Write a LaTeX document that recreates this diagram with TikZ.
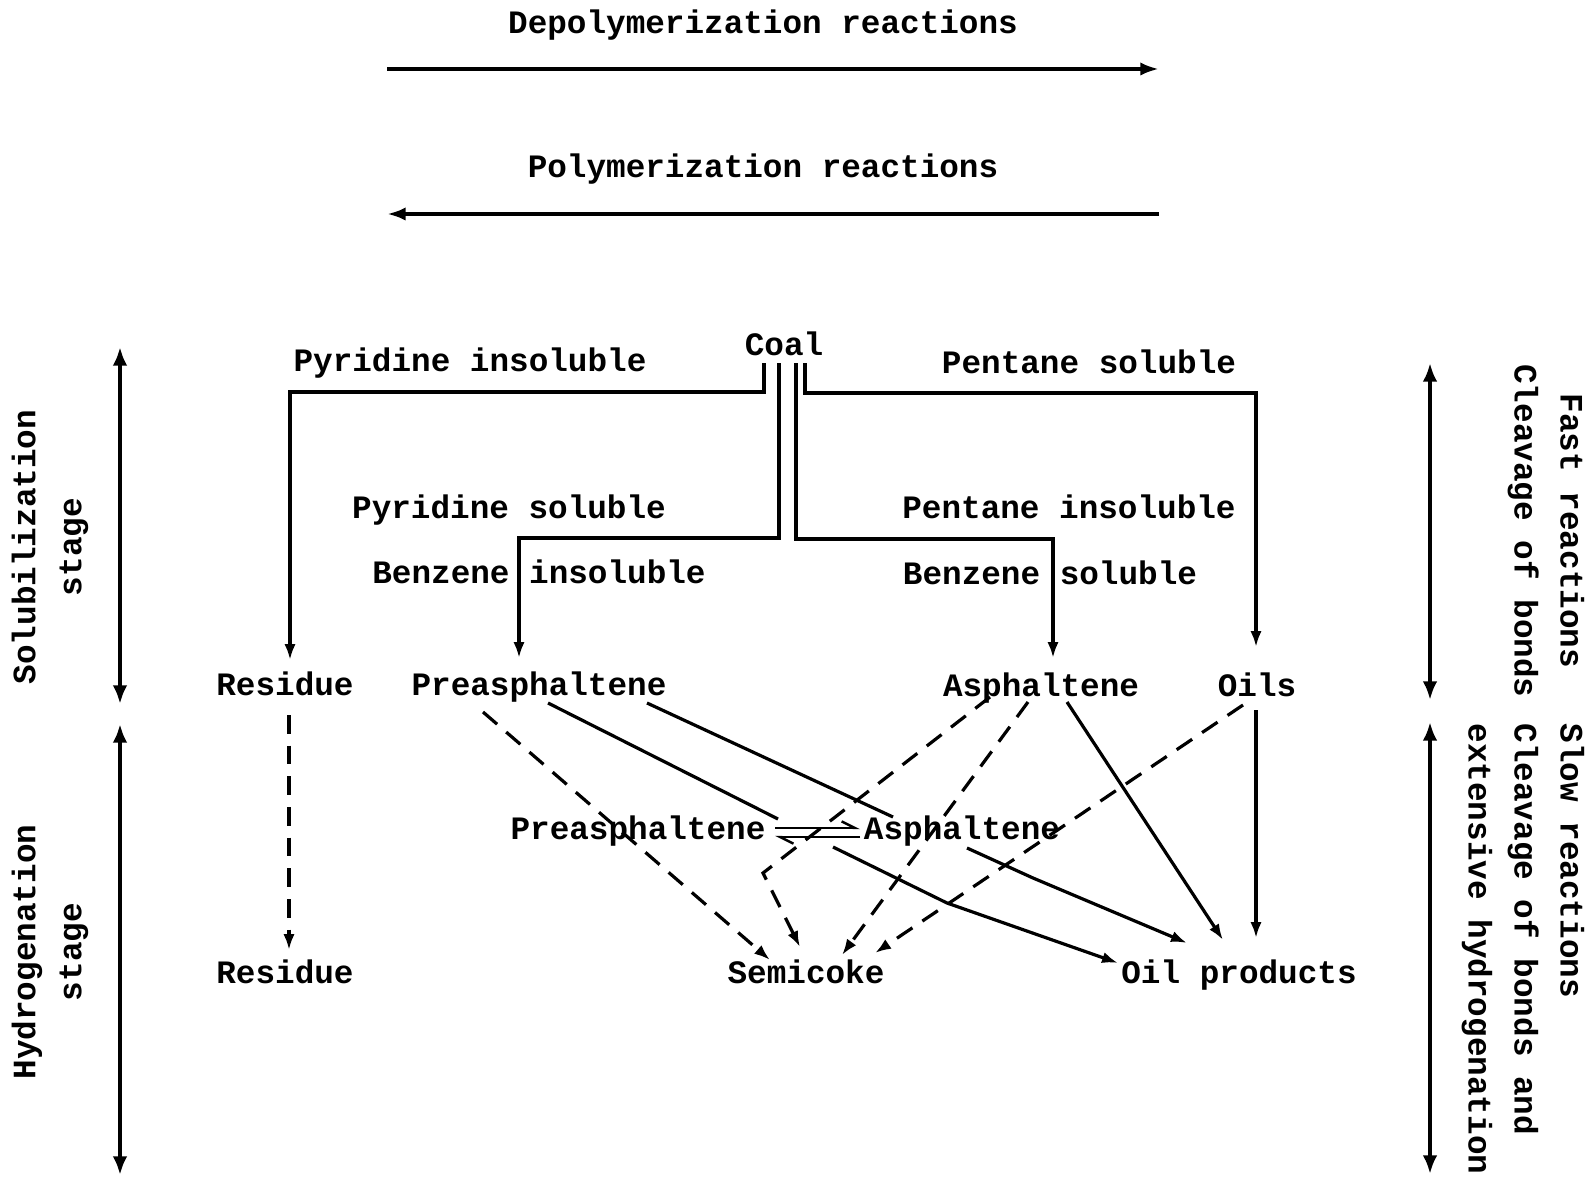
\documentclass[tikz,border=0pt]{standalone}
\usepackage{fontspec}
\setmainfont{Liberation Mono}
\usetikzlibrary{arrows.meta,calc}
\begin{document}
\begin{tikzpicture}[x=0.75pt,y=-0.75pt,
  lbl/.style={font=\bfseries\fontsize{24.5}{34.5}\selectfont, inner sep=0pt, outer sep=0pt, text height=18.5pt, text depth=1.2pt},
  rlbl/.style={font=\bfseries\fontsize{24.5}{34.5}\selectfont, inner sep=0pt, outer sep=0pt},
  ln/.style={line width=2.4pt},
  tip/.style={-{Latex[length=12pt,width=8.5pt]}},
  dsh/.style={line width=2.4pt, dash pattern=on 14pt off 9pt},
  bigarr/.style={line width=3pt,-{Latex[length=14pt,width=10pt]}},
  side/.style={line width=3.5pt,{Latex[length=14pt,width=11pt]}-{Latex[length=14pt,width=11pt]}},
  harp/.style={line width=1.8pt,-{Straight Barb[harpoon,length=10pt,width=10pt]}}
]
\fill[white] (0,0) rectangle (1590,1180);
\path[use as bounding box] (0,0) rectangle (1590,1180);

% top reactions
\node[lbl] (depol) at (763,22) {Depolymerization reactions};
\node[lbl] (polym) at (763,166) {Polymerization reactions};
\coordinate (dL) at (387,69); \coordinate (dR) at (1159,69);
\coordinate (pL) at (387,214); \coordinate (pR) at (1159,214);
\draw[bigarr] (dL) -- (dR);
\draw[bigarr] (pR) -- (pL);

% side stage labels
\node[rlbl, rotate=90, align=center] (solst) at (50,547) {Solubilization\\stage};
\node[rlbl, rotate=90, align=center] (hydst) at (50,952) {Hydrogenation\\stage};
\node[rlbl, rotate=-90, align=center] (fast) at (1546,531) {Fast reactions\\Cleavage of bonds};
\node[rlbl, rotate=-90, align=left] (slow) at (1523,949) {Slow reactions\\Cleavage of bonds and\\extensive hydrogenation};
\coordinate (l1t) at (120,347); \coordinate (l1b) at (120,704);
\coordinate (l2t) at (120,724); \coordinate (l2b) at (120,1175);
\coordinate (r1t) at (1430,363); \coordinate (r1b) at (1430,700);
\coordinate (r2t) at (1430,722); \coordinate (r2b) at (1430,1174);
\draw[side] (l1t) -- (l1b);
\draw[side] (l2t) -- (l2b);
\draw[side] (r1t) -- (r1b);
\draw[side] (r2t) -- (r2b);

% solubilization stage
\node[lbl] (coal) at (784,344) {Coal};
\node[lbl] (pyrins) at (470,360) {Pyridine insoluble};
\node[lbl] (pentsol) at (1089,362) {Pentane soluble};
\node[lbl] (pyrsol) at (509,507) {Pyridine soluble};
\node[lbl] (pentins) at (1069,507) {Pentane insoluble};
\node[lbl] (benzins) at (539,572) {Benzene insoluble};
\node[lbl] (benzsol) at (1050,573) {Benzene soluble};

\node[lbl] (residue1) at (285,684) {Residue};
\node[lbl] (preas1) at (539,684) {Preasphaltene};
\node[lbl] (asph1) at (1041,685) {Asphaltene};
\node[lbl] (oils) at (1257,685) {Oils};

\draw[ln,tip] ($(coal)+(-20,19)$) -- ($(coal)+(-20,48)$) -| ($(residue1)+(5,-24)$);
\draw[ln,tip] ($(coal)+(-5,19)$) -- ($(coal)+(-5,194)$) -| ($(preas1)+(-20,-26)$);
\draw[ln,tip] ($(coal)+(12,19)$) -- ($(coal)+(12,195)$) -| ($(asph1)+(12,-27)$);
\draw[ln,tip] ($(coal)+(21,19)$) -- ($(coal)+(21,49)$) -| ($(oils)+(-1,-38)$);

% hydrogenation stage
\node[lbl] (preas2) at (638,828) {Preasphaltene};
\node[lbl] (asph2) at (962,828) {Asphaltene};
\node[lbl] (residue2) at (285,972) {Residue};
\node[lbl] (semicoke) at (806,972) {Semicoke};
\node[lbl] (oilprod) at (1239,972) {Oil products};

\draw[dsh,tip] ($(residue1)+(4,31)$) -- ($(residue2)+(4,-22)$);

\draw[ln] ($(preas1)+(9,19)$) -- ($(preas2)+(140,-9)$);
\draw[ln] ($(preas1)+(108,19)$) -- ($(asph2)+(-69,-11)$);
\draw[dsh,tip] ($(preas1)+(-56,28)$) -- ($(semicoke)+(-36,-12)$);

\draw[harp] ($(preas2)+(137,0)$) -- ($(asph2)+(-102,0)$);
\draw[harp] ($(asph2)+(-102,9)$) -- ($(preas2)+(137,9)$);

\draw[dsh,tip] ($(asph1)+(-51,12)$) -- ($(semicoke)+(-43,-99)$) -- ($(semicoke)+(-6,-25)$);
\draw[dsh,tip] ($(asph1)+(-13,17)$) -- ($(semicoke)+(36,-17)$);
\draw[ln,tip] ($(asph1)+(26,17)$) -- ($(oilprod)+(-16,-32)$);
\draw[dsh,tip] ($(oils)+(-14,20)$) -- ($(semicoke)+(69,-19)$);
\draw[ln,tip] ($(oils)+(-1,25)$) -- ($(oilprod)+(17,-34)$);

\draw[ln,tip] ($(asph2)+(5,20)$) -- ($(oilprod)+(-206,-94)$) -- ($(oilprod)+(-52,-29)$);
\draw[ln,tip] ($(preas2)+(195,19)$) -- ($(oilprod)+(-292,-69)$) -- ($(oilprod)+(-121,-9)$);
\end{tikzpicture}
\end{document}
